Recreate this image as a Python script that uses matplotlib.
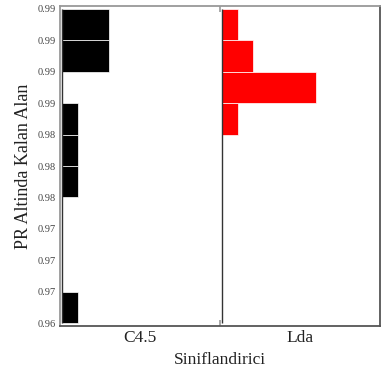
import numpy as np
import matplotlib
matplotlib.use("Agg")
import matplotlib.pyplot as plt
from matplotlib.ticker import FormatStrFormatter

# ---- data ----
categories = ["C4.5", "Lda"]
colors = ["#000000", "#ff0000"]
y_low = 0.9645
y_high = 0.9945
n_bins = 10
# histogram counts per bin, from bottom bin to top bin
c45_counts = [1, 0, 0, 0, 1, 1, 1, 0, 3, 3]
lda_counts = [0, 0, 0, 0, 0, 0, 1, 6, 2, 1]
all_counts = [c45_counts, lda_counts]

plt.rcParams["font.family"] = ["Liberation Serif", "DejaVu Serif"]

fig = plt.figure(figsize=(3.9, 3.74), dpi=100)
ax = fig.add_axes([60 / 390, 48 / 374, 320 / 390, 320 / 374])

edges = np.linspace(y_low, y_high, n_bins + 1)
bw = edges[1] - edges[0]
unit = 0.097   # x-units per count
offset = 0.015

for i, (counts, col) in enumerate(zip(all_counts, colors)):
    base = i - 0.5 + offset
    counts = np.asarray(counts)
    ax.barh(edges[:-1], counts * unit, height=bw, left=base, align="edge",
            color=col, edgecolor="white", linewidth=0.5, zorder=2)
    ax.vlines(base, y_low, y_high, color="#333333", linewidth=1.0, zorder=3)

pad = (y_high - y_low) * 0.0095
ax.set_ylim(y_low - pad, y_high + pad)
ax.set_xlim(-0.5, 1.5)
ax.set_yticks(edges)
ax.yaxis.set_major_formatter(FormatStrFormatter("%.2f"))
ax.tick_params(axis="y", length=0, pad=3, labelsize=7.5, labelcolor="#444444")

ax.set_xticks([0, 1])
ax.set_xticklabels(categories)
ax.tick_params(axis="x", which="major", length=0, pad=3, labelsize=12.5,
               labelcolor="#222222")
ax.set_xticks([0.5], minor=True)
ax.tick_params(axis="x", which="minor", direction="in", length=4, width=1.2,
               color="#999999", top=True, bottom=True)

ax.set_xlabel("Siniflandirici", fontsize=12.5, labelpad=4, color="#222222")
ax.set_ylabel("PR Altinda Kalan Alan", fontsize=13, labelpad=4, color="#222222")

ax.spines["left"].set_color("#999999")
ax.spines["top"].set_color("#999999")
ax.spines["right"].set_color("#555555")
ax.spines["bottom"].set_color("#555555")
for s in ax.spines.values():
    s.set_linewidth(1.3)

fig.savefig("out.png", dpi=100)
